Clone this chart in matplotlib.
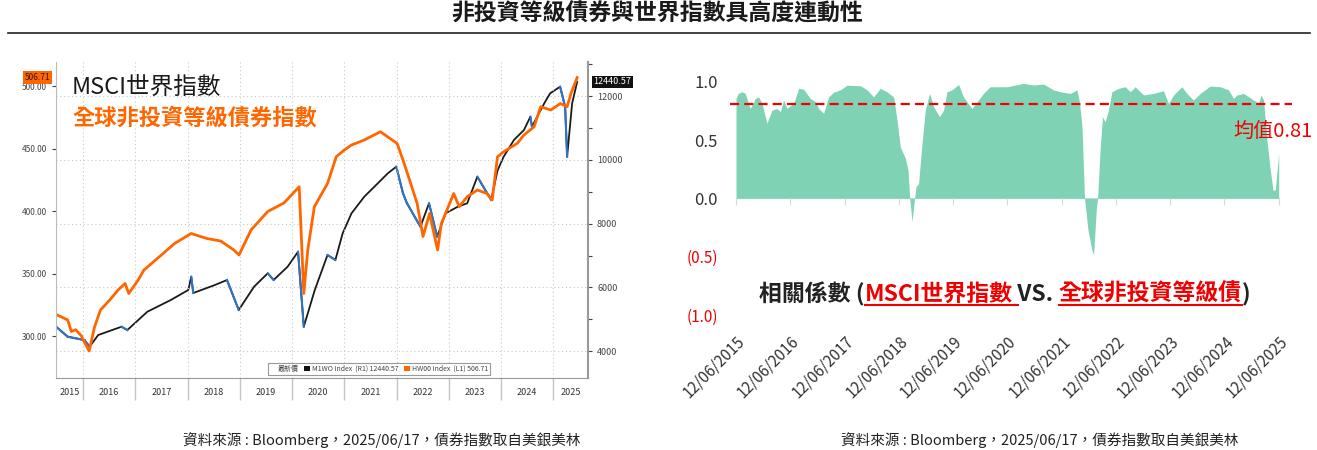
import numpy as np
import pandas as pd
import matplotlib
matplotlib.use('Agg')
import matplotlib.pyplot as plt
import matplotlib.dates as mdates
import matplotlib.transforms as mtransforms
from matplotlib.lines import Line2D
from matplotlib.patches import Patch
from matplotlib.ticker import FixedLocator, MultipleLocator

plt.rcParams['font.family'] = ['Noto Sans CJK TC', 'DejaVu Sans']

W, H = 1317, 450
RED = '#f00000'
ORANGE = '#ff6600'
MINT = '#7fd3b4'

# ---- left panel: Bloomberg index levels ----
hy_dates = ['2015-06-12', '2015-09-15', '2015-10-10', '2015-11-10', '2015-12-20',
            '2016-01-20', '2016-02-12', '2016-03-20', '2016-05-01', '2016-07-05',
            '2016-09-01', '2016-10-20', '2016-11-15', '2017-01-20', '2017-03-01',
            '2017-07-01', '2017-10-01', '2018-01-25', '2018-05-15', '2018-08-20',
            '2018-11-20', '2018-12-26', '2019-03-20', '2019-07-15', '2019-11-05',
            '2020-02-20', '2020-03-23', '2020-04-20', '2020-06-05', '2020-09-05',
            '2020-11-05', '2021-01-01', '2021-02-20', '2021-05-20', '2021-09-10',
            '2022-01-05', '2022-02-15', '2022-04-10', '2022-05-25', '2022-07-05',
            '2022-08-20', '2022-10-15', '2022-11-10', '2023-02-05', '2023-03-15',
            '2023-05-10', '2023-07-20', '2023-09-25', '2023-11-01', '2023-12-08',
            '2024-01-20', '2024-04-25', '2024-06-10', '2024-08-20', '2024-10-05',
            '2024-12-15', '2025-02-20', '2025-04-08', '2025-05-05', '2025-06-17']
hy_values = [318, 312.8, 303.6, 305, 300,
             292.8, 288, 307, 320.8, 328.8,
             336.8, 342, 334, 344.8, 352.8,
             364.8, 374, 382, 378, 376,
             368.8, 364.8, 384.8, 399.6, 406.4,
             419.4, 334, 368.8, 403.4, 422,
             443.4, 448.8, 452.8, 456.8, 463.4,
             454, 440.8, 422, 406, 379.6,
             398, 368.8, 390, 414, 403.4,
             411.4, 416.8, 414, 408.8, 443.4,
             447.4, 454.2, 460.8, 467.4, 483.4,
             480.8, 486, 483.4, 494, 506.71]

msci_dates = ['2015-06-12', '2015-09-15', '2016-01-10', '2016-02-15', '2016-04-15',
              '2016-09-25', '2016-11-05', '2017-03-25', '2017-09-05', '2018-01-05',
              '2018-01-26', '2018-02-09', '2018-07-10', '2018-10-03', '2018-12-24',
              '2019-04-10', '2019-07-15', '2019-08-25', '2019-12-01', '2020-02-12',
              '2020-03-23', '2020-06-08', '2020-09-05', '2020-10-30', '2020-12-20',
              '2021-02-20', '2021-05-20', '2021-07-30', '2021-11-01', '2021-12-30',
              '2022-02-15', '2022-03-15', '2022-06-17', '2022-08-16', '2022-10-12',
              '2022-12-10', '2023-03-05', '2023-05-10', '2023-07-20', '2023-10-25',
              '2023-12-08', '2024-01-20', '2024-04-01', '2024-06-10', '2024-07-25',
              '2024-08-05', '2024-10-30', '2024-12-10', '2025-02-18', '2025-03-25',
              '2025-04-08', '2025-05-13', '2025-06-17']
msci_values = [4821, 4454, 4350, 4140, 4507,
               4767, 4664, 5238, 5605, 5918,
               6335, 5824, 6075, 6232, 5291,
               6021, 6442, 6232, 6649, 7119,
               4767, 5918, 7015, 6859, 7696,
               8323, 8843, 9157, 9577, 9784,
               8950, 8636, 7903, 8636, 7589,
               8323, 8530, 8636, 9470, 8740,
               9660, 10097, 10621, 10934, 11351,
               11038, 11770, 12084, 12292, 11665,
               10097, 11770, 12440.57]

# ---- right panel: rolling correlation ----
corr_dates = ['2015-06-12', '2015-06-28', '2015-07-22', '2015-08-13', '2015-09-16',
              '2015-10-20', '2015-11-11', '2015-12-04', '2016-01-06', '2016-02-09',
              '2016-03-14', '2016-04-05', '2016-04-28', '2016-05-20', '2016-07-04',
              '2016-08-07', '2016-09-09', '2016-10-24', '2016-11-27', '2016-12-19',
              '2017-01-22', '2017-02-24', '2017-03-30', '2017-05-14', '2017-06-28',
              '2017-09-26', '2017-11-10', '2017-12-24', '2018-02-07', '2018-03-24',
              '2018-05-08', '2018-05-31', '2018-06-22', '2018-07-26', '2018-08-13',
              '2018-08-24', '2018-09-09', '2018-09-26', '2018-10-06', '2018-10-23',
              '2018-11-15', '2018-12-07', '2019-01-05', '2019-02-01', '2019-03-13',
              '2019-04-09', '2019-05-02', '2019-06-05', '2019-07-19', '2019-08-21',
              '2019-10-17', '2019-11-30', '2020-01-03', '2020-02-17', '2020-04-03',
              '2020-06-09', '2020-09-28', '2020-12-04', '2021-02-10', '2021-04-18',
              '2021-06-03', '2021-08-09', '2021-09-23', '2021-10-11', '2021-10-27',
              '2021-11-13', '2021-12-06', '2022-01-02', '2022-01-13', '2022-01-31',
              '2022-02-09', '2022-02-27', '2022-03-14', '2022-04-01', '2022-04-23',
              '2022-05-16', '2022-06-30', '2022-08-14', '2022-09-17', '2022-10-20',
              '2022-12-15', '2023-02-21', '2023-04-28', '2023-06-01', '2023-07-05',
              '2023-08-30', '2023-10-03', '2023-11-16', '2024-01-01', '2024-03-08',
              '2024-05-15', '2024-07-09', '2024-08-12', '2024-09-04', '2024-10-18',
              '2024-12-25', '2025-01-28', '2025-02-13', '2025-03-02', '2025-03-25',
              '2025-04-16', '2025-05-05', '2025-05-20', '2025-06-12']
corr_values = [0.86, 0.90, 0.914, 0.90, 0.77,
               0.857, 0.87, 0.815, 0.643, 0.757,
               0.77, 0.743, 0.843, 0.77, 0.815,
               0.943, 0.935, 0.857, 0.83, 0.77,
               0.73, 0.87, 0.91, 0.93, 0.97,
               0.966, 0.93, 0.87, 0.943, 0.914,
               0.87, 0.67, 0.44, 0.343, 0.243,
               0.0, -0.2, 0.0, 0.10, 0.128,
               0.47, 0.757, 0.90, 0.786, 0.70,
               0.757, 0.914, 0.93, 0.977, 0.87,
               0.77, 0.843, 0.90, 0.957, 0.957,
               0.957, 0.986, 0.972, 0.98, 0.93,
               0.914, 0.90, 0.93, 0.815, 0.614,
               0.0, -0.27, -0.443, -0.486, -0.10,
               0.0, 0.443, 0.70, 0.657, 0.757,
               0.914, 0.943, 0.957, 0.914, 0.957,
               0.886, 0.90, 0.923, 0.815, 0.886,
               0.957, 0.90, 0.843, 0.90, 0.963,
               0.957, 0.93, 0.857, 0.886, 0.90,
               0.843, 0.815, 0.886, 0.843, 0.50,
               0.243, 0.07, 0.07, 0.386]
corr_mean = 0.81
corr_ticks = pd.date_range('2015-06-12', periods=11, freq=pd.DateOffset(years=1))
y_ticks = [-1.0, -0.5, 0.0, 0.5, 1.0]
y_labels = ['(1.0)', '(0.5)', '0.0', '0.5', '1.0']

source_note = '資料來源 : Bloomberg，2025/06/17，債券指數取自美銀美林'

fig = plt.figure(figsize=(W / 100, H / 100), dpi=100)
fig.patch.set_facecolor('white')

# title + rule
fig.text(0.499, 1 - 14 / H, '非投資等級債券與世界指數具高度連動性', fontsize=16.5,
         fontweight='bold', ha='center', va='center', color='#1a1a1a')
fig.add_artist(Line2D([8 / W, 1310 / W], [1 - 33 / H, 1 - 33 / H],
                      transform=fig.transFigure, color='#222222', lw=1.2))

# =========== LEFT: Bloomberg style chart ===========
hy_d = pd.to_datetime(hy_dates)
msci_d = pd.to_datetime(msci_dates)

ax = fig.add_axes([56 / W, 1 - 378 / H, (588 - 56) / W, (378 - 62) / H])
axr = ax.twinx()

# black line, falling stretches in blue (Bloomberg style)
axr.plot(msci_d, msci_values, color='#1a1a1a', lw=1.3)
for i in range(1, len(msci_values)):
    if msci_values[i] < msci_values[i - 1]:
        axr.plot(msci_d[i - 1:i + 1], msci_values[i - 1:i + 1], color='#2f74c8', lw=1.5)
ax.plot(hy_d, hy_values, color=ORANGE, lw=2.0)
ax.set_zorder(axr.get_zorder() + 1)
ax.patch.set_visible(False)

x0, x1 = pd.Timestamp('2015-06-25'), pd.Timestamp('2025-09-01')
ax.set_xlim(x0, x1)
ax.set_ylim(266.4, 519.2)
axr.set_ylim(3160, 13066)

ax.set_yticks([300, 350, 400, 450, 500])
ax.set_yticklabels([f'{v:.2f}' for v in [300, 350, 400, 450, 500]])
ax.tick_params(axis='y', labelsize=6, colors='#444444', length=3, width=0.8)
axr.set_yticks([4000, 6000, 8000, 10000, 12000])
axr.yaxis.set_minor_locator(MultipleLocator(1000))
axr.tick_params(axis='y', which='both', labelsize=6.5, colors='#444444', length=3, width=0.8)
axr.yaxis.grid(True, color='#c8c8c8', ls=(0, (1, 2.5)), lw=0.8)

# year separators + year labels
years = pd.date_range('2016-01-01', '2025-01-01', freq='YS')
ax.xaxis.set_major_locator(FixedLocator(mdates.date2num(years)))
mids = [x0 + (years[0] - x0) / 2] + [y + pd.Timedelta(days=182) for y in years[:-1]] \
    + [years[-1] + (x1 - years[-1]) / 2]
ax.xaxis.set_minor_locator(FixedLocator(mdates.date2num(mids)))
ax.set_xticklabels([])
ax.set_xticklabels([str(m.year) for m in mids], minor=True)
ax.tick_params(axis='x', which='major', length=16, width=1, color='#c4c4c4', labelbottom=False)
ax.tick_params(axis='x', which='minor', length=0, pad=7, labelsize=6.5, labelcolor='#333333')
ax.xaxis.grid(True, which='major', color='#c8c8c8', ls=(0, (1, 2.5)), lw=0.8)

for a in (ax, axr):
    a.spines['top'].set_visible(False)
ax.spines['left'].set_color('#bbbbbb')
ax.spines['bottom'].set_color('#999999')
ax.spines['right'].set_visible(False)
axr.spines['left'].set_visible(False)
axr.spines['bottom'].set_visible(False)
axr.spines['right'].set_color('#999999')
axr.spines['right'].set_linewidth(1.5)

# last-value tags
ax.annotate(f'{hy_values[-1]:.2f}', xy=(0, hy_values[-1]),
            xycoords=mtransforms.blended_transform_factory(ax.transAxes, ax.transData),
            xytext=(-4, 0), textcoords='offset points', ha='right', va='center',
            fontsize=6, color='#3a1400',
            bbox=dict(boxstyle='square,pad=0.2', fc=ORANGE, ec='none'))
axr.annotate(f'{msci_values[-1]:.2f}', xy=(1, msci_values[-1]),
             xycoords=mtransforms.blended_transform_factory(axr.transAxes, axr.transData),
             xytext=(4, 0), textcoords='offset points', ha='left', va='center',
             fontsize=6.5, color='white',
             bbox=dict(boxstyle='square,pad=0.2', fc='#111111', ec='none'))

fig.text(72 / W, 1 - 87 / H, 'MSCI世界指數', fontsize=17, color='#1a1a1a', va='center')
fig.text(72 / W, 1 - 118 / H, '全球非投資等級債券指數', fontsize=16, color=ORANGE,
         fontweight='bold', va='center')

handles = [Patch(fc='none', ec='none'), Patch(fc='#111111'), Patch(fc=ORANGE)]
labels = ['最新價', f'M1WO Index  (R1) {msci_values[-1]:.2f}',
          f'HW00 Index  (L1) {hy_values[-1]:.2f}']
leg = ax.legend(handles, labels, ncol=3, fontsize=5, loc='center',
                bbox_to_anchor=(379 / W, 1 - 369 / H), bbox_transform=fig.transFigure,
                frameon=True, fancybox=False, edgecolor='#999999', framealpha=1,
                handlelength=0.8, handleheight=0.8, handletextpad=0.3,
                columnspacing=0.8, borderpad=0.35)
leg.get_frame().set_linewidth(0.8)
for t in leg.get_texts():
    t.set_color('#444444')

fig.text(382 / W, 1 - 440 / H, source_note, fontsize=10.5, ha='center', va='center',
         color='#222222')

# =========== RIGHT: correlation area ===========
corr_d = pd.to_datetime(corr_dates)
ax2 = fig.add_axes([736 / W, 1 - 324.2 / H, 542.7 / W, 244.8 / H])
ax2.fill_between(corr_d, corr_values, 0, color=MINT, lw=0, interpolate=True)
ax2.set_xlim(corr_ticks[0], corr_ticks[-1])
ax2.set_ylim(-1.08, 1.02)

for s in ['top', 'right', 'left']:
    ax2.spines[s].set_visible(False)
ax2.spines['bottom'].set_position(('data', 0))
ax2.spines['bottom'].set_color('#d9d9d9')
ax2.spines['bottom'].set_zorder(0)
ax2.set_xticks(corr_ticks)
ax2.tick_params(axis='x', length=5, color='#d9d9d9', labelbottom=False)

sec = ax2.secondary_xaxis('bottom')
sec.set_xticks(corr_ticks)
sec.set_xticklabels([d.strftime('%d/%m/%Y') for d in corr_ticks])
sec.tick_params(length=0, labelsize=11, labelcolor='#333333', pad=6)
sec.spines['bottom'].set_visible(False)
for lab in sec.get_xticklabels():
    lab.set_rotation(45)
    lab.set_ha('right')
    lab.set_rotation_mode('anchor')

ax2.set_yticks(y_ticks)
ax2.set_yticklabels(y_labels)
ax2.tick_params(axis='y', length=0, pad=13)
for lab, v in zip(ax2.get_yticklabels(), y_ticks):
    if v < 0:
        lab.set_color(RED)
        lab.set_fontsize(11)
    else:
        lab.set_color('#333333')
        lab.set_fontsize(12)

ax2.axhline(corr_mean, xmin=-0.011, xmax=1.025, clip_on=False, color=RED, lw=1.6,
            dashes=(4.1, 2.3))
ax2.text(0.916, corr_mean - 0.235, f'均值{corr_mean:.2f}', color=RED, fontsize=14.5,
         ha='left', va='center',
         transform=mtransforms.blended_transform_factory(ax2.transAxes, ax2.transData))

# subtitle with coloured parts
pieces = [('相關係數 (', '#222222'), ('MSCI世界指數', RED), (' VS. ', '#222222'),
          ('全球非投資等級債', RED), (')', '#222222')]
prev = fig.text(759 / W, 1 - 294 / H, pieces[0][0], fontsize=16.5, fontweight='bold',
                color=pieces[0][1], ha='left', va='center')
texts = [prev]
for txt, col in pieces[1:]:
    prev = fig.text(0, 0, txt, fontsize=16.5, fontweight='bold', color=col,
                    ha='left', va='bottom')
    texts.append(prev)
fig.canvas.draw()
r = fig.canvas.get_renderer()
bb0 = texts[0].get_window_extent(r)
xcur = bb0.x1
for t in texts[1:]:
    t.set_position((xcur / W, bb0.y0 / H))
    fig.canvas.draw()
    xcur = t.get_window_extent(r).x1
for i in (1, 3):
    bb = texts[i].get_window_extent(r)
    ext = 5 if i == 1 else 0
    fig.add_artist(Line2D([bb.x0 / W, (bb.x1 + ext) / W], [(bb.y0 + 1) / H] * 2,
                          transform=fig.transFigure, color=RED, lw=1.5))

fig.text(1040 / W, 1 - 440 / H, source_note, fontsize=10.5, ha='center', va='center',
         color='#222222')

fig.savefig('out.png', dpi=100, facecolor='white')
